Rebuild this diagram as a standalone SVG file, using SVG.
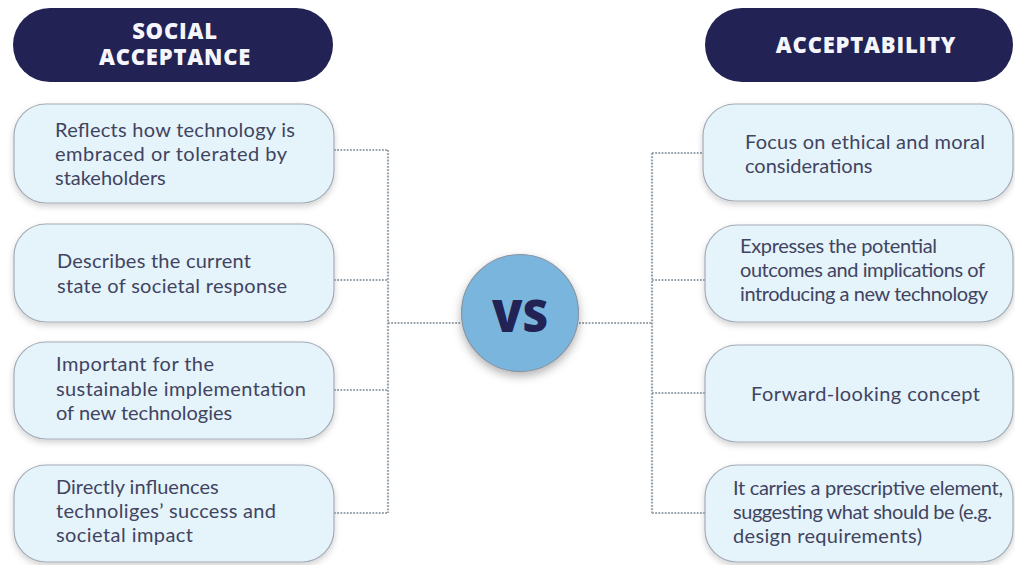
<svg xmlns="http://www.w3.org/2000/svg" width="1015" height="565" viewBox="0 0 1015 565">
  <defs>
    <filter id="shadow" x="-10%" y="-20%" width="120%" height="150%">
      <feDropShadow dx="0" dy="3" stdDeviation="3" flood-color="#000" flood-opacity="0.18"/>
    </filter>
    <filter id="circleShadow" x="-30%" y="-30%" width="160%" height="160%">
      <feDropShadow dx="0" dy="4" stdDeviation="5" flood-color="#000" flood-opacity="0.3"/>
    </filter>
  </defs>
  <style>
    .header { fill: #232254; }
    .header-text { font-family: "Open Sans", "Liberation Sans", sans-serif; font-weight: 800; font-size: 22px; letter-spacing: 0.8px; fill: #f4f6fb; text-anchor: middle; }
    .box { fill: #e5f3fb; stroke: #a3acb5; stroke-width: 1.2; filter: url(#shadow); }
    .label { font-family: Lato, "Liberation Sans", sans-serif; font-size: 20px; fill: #41445f; }
    .link { fill: none; stroke: #99a3ad; stroke-width: 2.2; stroke-dasharray: 1.8 1.4; }
    .vs { fill: #79b5dd; stroke: #8895a3; stroke-width: 1.2; filter: url(#circleShadow); }
    .vs-text { font-family: "Open Sans", "Liberation Sans", sans-serif; font-weight: 800; font-size: 44px; fill: #232254; text-anchor: middle; }
  </style>

  <rect width="1015" height="565" fill="#ffffff"/>

  <!-- connectors -->
  <g id="connectors">
    <!-- left bracket -->
    <path class="link" d="M334 150 H388 M334 280 H388 M334 390 H388 M334 513 H388 M388 150 V513 M388 323 H461"/>
    <!-- right bracket -->
    <path class="link" d="M579 323 H652 M652 153 V513 M652 153 H703 M652 280 H705 M652 393 H705 M652 513 H705"/>
  </g>

  <!-- column headers -->
  <g id="header-social-acceptance">
    <rect class="header" x="13" y="8" width="320" height="74" rx="37"/>
    <text class="header-text"><tspan x="175" y="39">SOCIAL</tspan><tspan x="175" y="65">ACCEPTANCE</tspan></text>
  </g>
  <g id="header-acceptability">
    <rect class="header" x="705" y="8" width="308" height="74" rx="37"/>
    <text class="header-text" x="866" y="53">ACCEPTABILITY</text>
  </g>

  <!-- left column -->
  <g id="sa-1">
    <rect class="box" x="14" y="104" width="320" height="99" rx="32"/>
    <text class="label" x="55" y="137" textLength="240">Reflects how technology is</text>
    <text class="label" x="55" y="161" textLength="232">embraced or tolerated by</text>
    <text class="label" x="55" y="185">stakeholders</text>
  </g>
  <g id="sa-2">
    <rect class="box" x="14" y="224" width="320" height="98" rx="32"/>
    <text class="label" x="57" y="268" textLength="194">Describes the current</text>
    <text class="label" x="57" y="293" textLength="230">state of societal response</text>
  </g>
  <g id="sa-3">
    <rect class="box" x="14" y="342" width="320" height="97" rx="32"/>
    <text class="label" x="56" y="371" textLength="158">Important for the</text>
    <text class="label" x="56" y="396" textLength="250">sustainable implementation</text>
    <text class="label" x="56" y="420">of new technologies</text>
  </g>
  <g id="sa-4">
    <rect class="box" x="14" y="465" width="320" height="97" rx="32"/>
    <text class="label" x="56" y="494">Directly influences</text>
    <text class="label" x="56" y="518" textLength="220">technoliges’ success and</text>
    <text class="label" x="56" y="542" textLength="137">societal impact</text>
  </g>

  <!-- centre -->
  <g id="vs">
    <circle class="vs" cx="520" cy="313" r="58.5"/>
    <text class="vs-text" x="520" y="332">VS</text>
  </g>

  <!-- right column -->
  <g id="ac-1">
    <rect class="box" x="703" y="104" width="310" height="97" rx="32"/>
    <text class="label" x="745" y="149" textLength="240">Focus on ethical and moral</text>
    <text class="label" x="745" y="173">considerations</text>
  </g>
  <g id="ac-2">
    <rect class="box" x="705" y="225" width="308" height="97" rx="32"/>
    <text class="label" x="740" y="253" textLength="197">Expresses the potential</text>
    <text class="label" x="740" y="277" textLength="245">outcomes and implications of</text>
    <text class="label" x="740" y="301" textLength="248">introducing a new technology</text>
  </g>
  <g id="ac-3">
    <rect class="box" x="705" y="345" width="308" height="97" rx="32"/>
    <text class="label" x="751" y="401" textLength="229">Forward-looking concept</text>
  </g>
  <g id="ac-4">
    <rect class="box" x="705" y="465" width="308" height="97" rx="32"/>
    <text class="label" x="733" y="495" textLength="270">It carries a prescriptive element,</text>
    <text class="label" x="733" y="519" textLength="259">suggesting what should be (e.g.</text>
    <text class="label" x="733" y="543" textLength="189">design requirements)</text>
  </g>
</svg>
